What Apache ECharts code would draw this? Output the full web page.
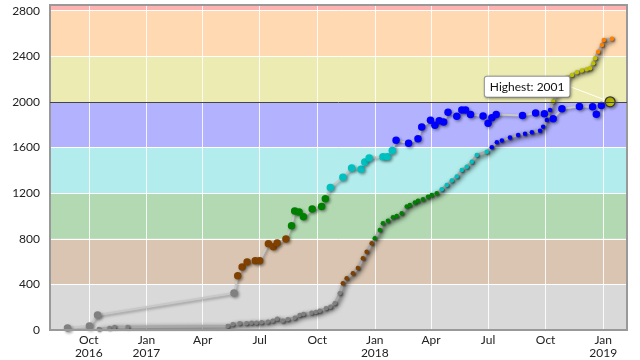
<!DOCTYPE html>
<html>
<head>
<meta charset="utf-8">
<script src="https://cdn.jsdelivr.net/npm/echarts@6/dist/echarts.min.js"></script>
<style>html,body{margin:0;padding:0;background:#fff}#c{width:640px;height:360px}</style>
</head>
<body>
<div id="c"></div>
<script>
// Series A (sparse, large markers)
const aDates = ['2016-08-28','2016-10-02','2016-10-15','2017-05-21','2017-05-27','2017-06-03','2017-06-11','2017-06-24','2017-07-01','2017-07-15','2017-07-23','2017-07-29','2017-08-12','2017-08-21','2017-08-26','2017-09-02','2017-09-09','2017-09-23','2017-10-08','2017-10-14','2017-10-22','2017-11-11','2017-11-25','2017-12-10','2017-12-16','2017-12-23','2018-01-14','2018-01-21','2018-01-29','2018-02-04','2018-02-24','2018-03-11','2018-03-17','2018-03-31','2018-04-07','2018-04-14','2018-04-21','2018-04-28','2018-05-12','2018-05-20','2018-05-26','2018-06-03','2018-06-23','2018-07-01','2018-07-07','2018-07-14','2018-08-25','2018-09-15','2018-09-29','2018-10-13','2018-10-27','2018-11-24','2018-12-15','2018-12-21','2018-12-29','2019-01-12'];
const aValues = [18,35,132,325,476,553,596,608,608,757,731,763,798,915,1044,1035,994,1061,1082,1152,1250,1339,1421,1410,1474,1509,1519,1519,1575,1664,1638,1678,1781,1839,1796,1836,1825,1910,1875,1930,1930,1890,1877,1813,1861,1890,1880,1904,1896,1853,1940,1961,1958,1892,1968,2001];

// Series B (dense, small markers)
const bDates = ['2016-10-17','2016-11-03','2016-11-11','2016-12-02','2017-05-11','2017-05-19','2017-05-30','2017-06-10','2017-06-18','2017-06-26','2017-07-04','2017-07-14','2017-07-22','2017-07-29','2017-08-07','2017-08-15','2017-08-26','2017-09-03','2017-09-09','2017-09-22','2017-09-29','2017-10-05','2017-10-15','2017-10-22','2017-10-29','2017-11-06','2017-11-11','2017-11-17','2017-11-27','2017-12-05','2017-12-13','2017-12-19','2017-12-27','2018-01-01','2018-01-09','2018-01-14','2018-01-22','2018-01-30','2018-02-05','2018-02-13','2018-02-21','2018-02-26','2018-03-06','2018-03-11','2018-03-19','2018-03-27','2018-04-02','2018-04-10','2018-04-18','2018-04-26','2018-05-04','2018-05-12','2018-05-20','2018-05-28','2018-06-05','2018-06-13','2018-06-29','2018-07-07','2018-07-15','2018-07-23','2018-08-05','2018-08-18','2018-08-29','2018-09-09','2018-09-22','2018-09-27','2018-10-03','2018-10-08','2018-10-13','2018-10-19','2018-10-24','2018-11-04','2018-11-12','2018-11-20','2018-11-28','2018-12-06','2018-12-11','2018-12-16','2018-12-19','2018-12-24','2018-12-30','2019-01-02','2019-01-15'];
const bValues = [9,18,26,26,35,50,59,59,64,64,68,73,82,99,82,94,108,132,140,152,158,169,190,204,234,322,410,453,497,544,629,687,760,804,877,936,959,989,1000,1024,1082,1097,1117,1134,1147,1169,1184,1199,1234,1272,1310,1345,1404,1432,1476,1535,1564,1603,1647,1661,1687,1711,1722,1734,1748,1783,1842,1930,2003,2105,2164,2213,2237,2261,2275,2287,2296,2339,2383,2441,2500,2544,2553];

const xTicks = ['2016-10-01','2017-01-01','2017-04-01','2017-07-01','2017-10-01','2018-01-01','2018-04-01','2018-07-01','2018-10-01','2019-01-01'];
const monthNames = ['Jan','Feb','Mar','Apr','May','Jun','Jul','Aug','Sep','Oct','Nov','Dec'];
const bandEdges = [0,400,800,1200,1600,2000,2400,2800,2850];
const bandColors = ['#D9D9D9','#D9C5B2','#B2D9B2','#B2ECEC','#B2B2FF','#ECECB2','#FFD9B2','#FFB2B2'];
const dotColors = ['#808080','#804000','#008000','#00C0C0','#0000FF','#C0C000','#FF8000','#FF0000'];
const highest = 2001;

function ts(s){ const p=s.split('-').map(Number); return Date.UTC(p[0],p[1]-1,p[2]); }
function rc(v){ let i = Math.min(7, Math.floor(v/400)); return dotColors[i]; }

const tickVals = xTicks.map(ts);
const firstTick = tickVals[0];

const bands = [];
for (let i=0;i<bandColors.length;i++){
  bands.push([{yAxis: bandEdges[i], itemStyle:{color: bandColors[i]}}, {yAxis: bandEdges[i+1]}]);
}

const aData = aDates.map((d,i)=>{
  const item = {value:[ts(d), aValues[i]], itemStyle:{color: rc(aValues[i])}};
  if (i === aDates.length-1) {
    item.symbolSize = 10;
    item.itemStyle = {color: rc(aValues[i]), borderColor:'#333', borderWidth:1.2};
    item.label = {show:true, position:'left', distance:5, formatter:'Highest: ' + aValues[i],
      backgroundColor:'#fff', borderColor:'#999', borderWidth:1, borderRadius:2, padding:[4,5],
      color:'#111', fontFamily:'Lato', fontSize:12, shadowColor:'rgba(0,0,0,0.3)', shadowBlur:3, shadowOffsetX:1, shadowOffsetY:1};
    item.labelLine = {show:true, lineStyle:{color:'#fff', width:1}};
  }
  return item;
});
const bData = bDates.map((d,i)=>({value:[ts(d), bValues[i]], itemStyle:{color: rc(bValues[i])}}));

const chart = echarts.init(document.getElementById('c'), null, {renderer:'canvas'});
chart.setOption({
  animation:false,
  grid:{left:50, right:13, top:5, bottom:30, outerBoundsMode:'none', containLabel:false, show:true, backgroundColor:'transparent', borderColor:'#999', borderWidth:2, z:5},
  xAxis:{type:'value', min: ts('2016-07-31'), max: ts('2019-02-08'), z:2,
    axisLine:{show:false}, axisTick:{show:false, customValues: tickVals},
    splitLine:{show:true, lineStyle:{color:'rgba(255,255,255,0.85)', width:1}},
    axisLabel:{customValues: tickVals, color:'#222', fontFamily:'Lato', fontSize:12, lineHeight:13, margin:4,
      formatter:function(v){ const d=new Date(v); const m=monthNames[d.getUTCMonth()];
        return (d.getUTCMonth()===0 || Math.abs(v-firstTick)<86400000) ? m+'\n'+d.getUTCFullYear() : m; }}
  },
  yAxis:{type:'value', min:0, max:2850, interval:400, z:2,
    axisLine:{show:false}, axisTick:{show:false},
    splitLine:{show:true, lineStyle:{color:'#fff', width:1}},
    axisLabel:{color:'#222', fontFamily:'Lato', fontSize:12, margin:10, showMaxLabel:false, formatter:function(v){ return String(v); }}
  },
  series:[
    {type:'line', data:[], z:1, silent:true, markArea:{silent:true, itemStyle:{borderWidth:0}, data: bands}},
    {type:'line', name:'B', data:bData, z:3, symbol:'circle', symbolSize:4.5, showSymbol:true,
      lineStyle:{color:'#a8a8a8', width:2.5, shadowColor:'rgba(0,0,0,0.9)', shadowBlur:5, shadowOffsetX:2, shadowOffsetY:2},
      itemStyle:{shadowColor:'rgba(0,0,0,0.6)', shadowBlur:2, shadowOffsetX:1, shadowOffsetY:1}},
    {type:'line', name:'A', data:aData, z:4, symbol:'circle', symbolSize:7.5, showSymbol:true,
      lineStyle:{color:'#c8c8c8', width:2, shadowColor:'rgba(0,0,0,0.35)', shadowBlur:3, shadowOffsetX:1.5, shadowOffsetY:1.5},
      itemStyle:{shadowColor:'rgba(0,0,0,0.4)', shadowBlur:3, shadowOffsetX:1.5, shadowOffsetY:1.5},
      labelLayout:function(p){ if (p.dataIndex === aDates.length-1) return {dx:-30, dy:-15}; },
      markLine:{silent:true, symbol:'none', label:{show:false}, lineStyle:{color:'#444', width:1, type:'solid'}, data:[{yAxis: highest}]}
    }
  ]
});
</script>
</body>
</html>
